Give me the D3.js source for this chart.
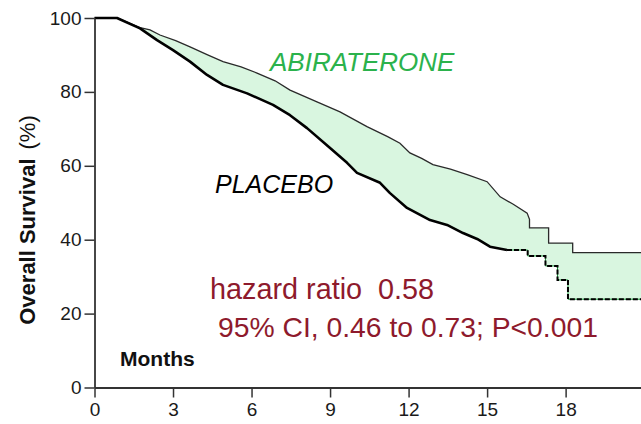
<!DOCTYPE html>
<html>
<head>
<meta charset="utf-8">
<script src="https://cdn.jsdelivr.net/npm/d3@7"></script>
<style>
  html, body { margin: 0; padding: 0; background: #fff; }
  svg { display: block; }
  text { font-family: "Liberation Sans", Arial, sans-serif; }
</style>
</head>
<body>
<svg id="chart" width="641" height="424"></svg>
<script>
// ---- data ----
const xTicks = [0, 3, 6, 9, 12, 15, 18];
const yTicks = [0, 20, 40, 60, 80, 100];

const abiMonths   = [0, 0.86, 1.74, 2.12, 2.5, 3.1, 3.65, 4.3, 4.91, 5.6, 6.21, 6.9, 7.47, 8.5, 9.38, 10.41, 11.2, 11.67, 12.05, 12.5, 12.93, 13.6, 14.24, 15.0, 15.5, 16.0, 16.53, 16.62, 16.62, 17.35, 17.35, 18.27, 18.27, 20.9];
const abiSurvival = [100, 100, 97.4, 96.8, 95.4, 93.9, 92.2, 90.1, 88.2, 86.8, 85.1, 83.0, 80.5, 77.3, 74.6, 70.6, 67.9, 66.1, 63.5, 62.0, 60.3, 59.1, 57.6, 55.7, 51.6, 49.6, 47.2, 45.5, 43.2, 43.2, 39.1, 39.1, 36.5, 36.5];

const pboMonths   = [0, 0.86, 1.74, 2.39, 3.0, 3.65, 4.3, 4.91, 5.83, 6.82, 7.47, 8.12, 9.0, 9.65, 10.03, 10.91, 11.29, 11.94, 12.82, 13.47, 14.08, 14.62, 15.11, 15.76, 16.55, 16.55, 17.23, 17.23, 17.69, 17.69, 18.09, 18.09, 20.9];
const pboSurvival = [100, 100, 97.2, 94.0, 91.3, 88.2, 84.6, 81.9, 79.6, 76.5, 73.7, 70.2, 64.8, 60.8, 58.1, 55.4, 52.6, 48.6, 45.3, 44.0, 41.8, 40.2, 38.1, 37.2, 37.2, 35.6, 35.6, 32.9, 32.9, 29.1, 29.1, 23.9, 23.9];

const seriesNames = ["ABIRATERONE", "PLACEBO"];
const yTitle = "Overall Survival";
const yUnit = "(%)";
const xTitle = "Months";
const hrText = "hazard ratio  0.58";
const ciText = "95% CI, 0.46 to 0.73; P<0.001";

// ---- chart ----
const svg = d3.select("#chart");
const x = d3.scaleLinear().domain([0, 20.88]).range([94.5, 641]);
const y = d3.scaleLinear().domain([0, 100]).range([387.5, 18]);

const abi = abiMonths.map((m, i) => [m, abiSurvival[i]]);
const pbo = pboMonths.map((m, i) => [m, pboSurvival[i]]);

const line = d3.line().x(d => x(d[0])).y(d => y(d[1]));

// shaded band between curves
svg.append("path")
  .attr("d", line(abi.concat(pbo.slice().reverse())) + "Z")
  .attr("fill", "#d9f6e0")
  .attr("stroke", "none");

// abiraterone curve (thin)
svg.append("path")
  .attr("d", line(abi))
  .attr("fill", "none")
  .attr("stroke", "#2a2a2a")
  .attr("stroke-width", 1.3);

// placebo curve (thick), dashed in the sparse tail
const tailStart = 15.76;
svg.append("path")
  .attr("d", line(pbo.filter(d => d[0] <= tailStart)))
  .attr("fill", "none")
  .attr("stroke", "#000")
  .attr("stroke-width", 2.6)
  .attr("stroke-linejoin", "round");
svg.append("path")
  .attr("d", line(pbo.filter(d => d[0] >= tailStart)))
  .attr("fill", "none")
  .attr("stroke", "#1a9a3a")
  .attr("stroke-width", 1);
svg.append("path")
  .attr("d", line(pbo.filter(d => d[0] >= tailStart)))
  .attr("fill", "none")
  .attr("stroke", "#000")
  .attr("stroke-width", 2)
  .attr("stroke-dasharray", "5,2");

// axes
const xAxis = d3.axisBottom(x).tickValues(xTicks).tickSize(10).tickSizeOuter(0).tickPadding(5);
const yAxis = d3.axisLeft(y).tickValues(yTicks).tickSize(10).tickSizeOuter(0).tickPadding(3);

const gx = svg.append("g").attr("transform", `translate(0,${y(0)})`).call(xAxis);
const gy = svg.append("g").attr("transform", `translate(${x(0)},0)`).call(yAxis);
[gx, gy].forEach(g => {
  g.select(".domain").attr("stroke", "#333").attr("stroke-width", 1.8);
  g.selectAll(".tick line").attr("stroke", "#333").attr("stroke-width", 1.5);
  g.selectAll(".tick text").attr("fill", "#1a1a1a").style("font-size", "19px")
    .style("font-family", "'Liberation Sans', Arial, sans-serif");
});

// y title
const yt = svg.append("text")
  .attr("transform", `translate(35,220) rotate(-90)`)
  .attr("text-anchor", "middle")
  .style("font-size", "22px")
  .attr("fill", "#111");
yt.append("tspan").style("font-weight", "bold").text(yTitle);
yt.append("tspan").attr("dx", 9).text(yUnit);

// x title
svg.append("text")
  .attr("x", 120).attr("y", 366)
  .style("font-size", "21px").style("font-weight", "bold")
  .attr("fill", "#111")
  .text(xTitle);

// series labels
svg.append("text")
  .attr("x", 270).attr("y", 71)
  .style("font-size", "26px").style("font-style", "italic")
  .attr("fill", "#2bb24c")
  .text(seriesNames[0]);
svg.append("text")
  .attr("x", 215).attr("y", 193)
  .style("font-size", "25px").style("font-style", "italic")
  .attr("fill", "#000")
  .text(seriesNames[1]);

// statistics
svg.append("text")
  .attr("x", 210).attr("y", 299)
  .style("font-size", "28.8px")
  .attr("fill", "#8e1a2c")
  .attr("xml:space", "preserve")
  .style("white-space", "pre")
  .text(hrText);
svg.append("text")
  .attr("x", 218).attr("y", 337)
  .style("font-size", "28.3px")
  .attr("fill", "#8e1a2c")
  .text(ciText);
</script>
</body>
</html>
